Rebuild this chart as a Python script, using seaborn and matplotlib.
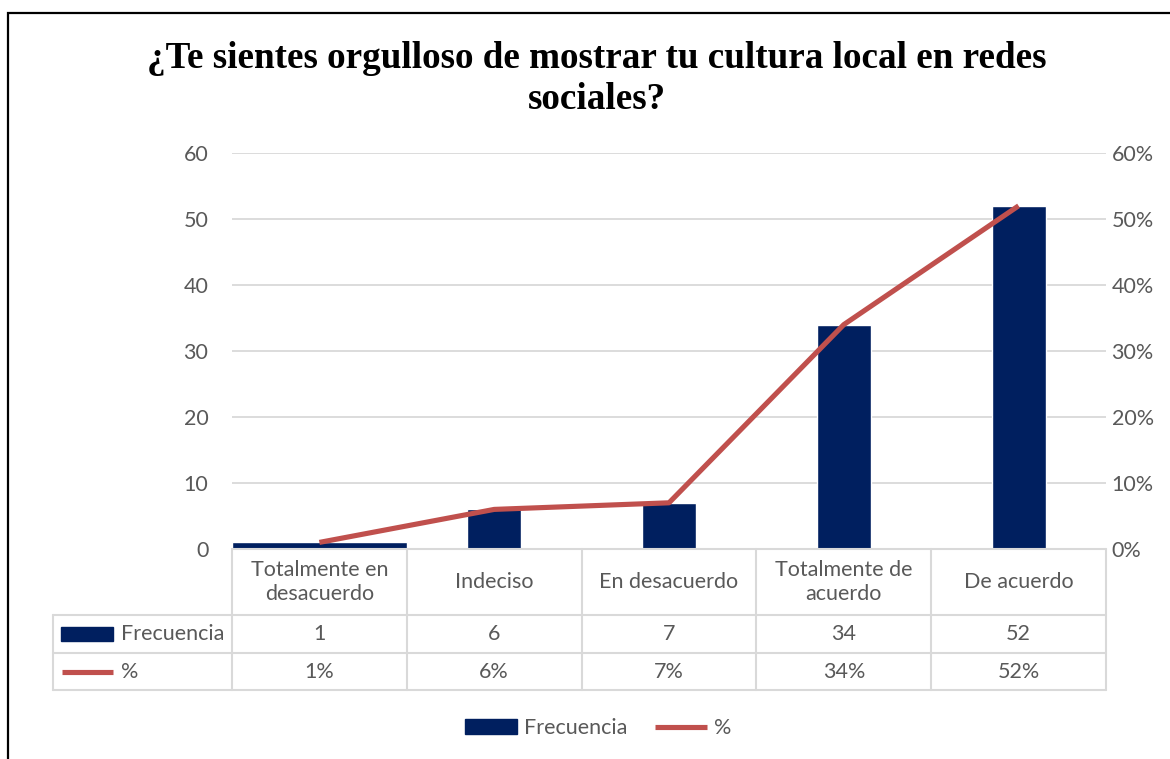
import numpy as np
import pandas as pd
import matplotlib
matplotlib.use("Agg")
import matplotlib.pyplot as plt
import matplotlib.patches as mpatches
from matplotlib.lines import Line2D
from matplotlib.ticker import PercentFormatter, MultipleLocator
import seaborn as sns

# ---- data ----
categories = ["Totalmente en desacuerdo", "Indeciso", "En desacuerdo",
              "Totalmente de acuerdo", "De acuerdo"]
table_labels = ["Totalmente en\ndesacuerdo", "Indeciso", "En desacuerdo",
                "Totalmente de\nacuerdo", "De acuerdo"]
frecuencia = [1, 6, 7, 34, 52]
porcentaje = [0.01, 0.06, 0.07, 0.34, 0.52]
pct_labels = ["1%", "6%", "7%", "34%", "52%"]
title = "¿Te sientes orgulloso de mostrar tu cultura local en redes\nsociales?"

df = pd.DataFrame({"cat": categories, "Frecuencia": frecuencia, "pct": porcentaje})

# ---- style ----
sns.set_theme(style="white")
FONT = ["Lato", "DejaVu Sans"]
plt.rcParams["font.family"] = FONT
TXT = "#595959"
NAVY = "#001F5F"
RED = "#C0504D"
GRID = "#D9D9D9"
FS = 15.5

W, H = 1170, 759
fig = plt.figure(figsize=(W / 100, H / 100), dpi=100)

def fx(px):
    return px / W

def fy(py):
    return 1 - py / H

# main axes
L, R, T, B = 232, 1106, 153, 549
ax = fig.add_axes([fx(L), fy(B), fx(R - L), (B - T) / H])
sns.barplot(data=df, x="cat", y="Frecuencia", color=NAVY, width=0.31,
            saturation=1, ax=ax, zorder=3)
# first bar is drawn across its whole category in the reference
p0 = ax.patches[0]
p0.set_x(-0.5)
p0.set_width(1.0)

ax.set_xlim(-0.5, len(categories) - 0.5)
ax.set_ylim(0, 60)
ax.yaxis.set_major_locator(MultipleLocator(10))
ax.set_xlabel("")
ax.set_ylabel("")
ax.set_xticks([])
ax.grid(axis="y", color=GRID, linewidth=1.3, zorder=0)
ax.set_axisbelow(True)
for s in ax.spines.values():
    s.set_visible(False)
ax.tick_params(axis="y", length=0, pad=17, labelsize=FS, labelcolor=TXT)
ax.patch.set_alpha(0)

ax2 = ax.twinx()
positions = np.arange(len(categories))
sns.lineplot(x=positions, y=porcentaje, ax=ax2, color=RED, linewidth=3.7,
             solid_capstyle="butt", zorder=4)
ax2.set_ylim(0, 0.6)
ax2.yaxis.set_major_locator(MultipleLocator(0.1))
ax2.yaxis.set_major_formatter(PercentFormatter(1.0, decimals=0))
ax2.set_ylabel("")
for s in ax2.spines.values():
    s.set_visible(False)
ax2.tick_params(axis="y", length=0, pad=4, labelsize=FS, labelcolor=TXT)

# ---- data table ----
TL, TT, TB = 53, 549, 690
R1, R2 = 615, 653
tax = fig.add_axes([fx(TL), fy(TB), fx(R - TL), (TB - TT) / H])
col_w = (R - L) / len(categories)
tax.set_xlim(TL, R)
tax.set_ylim(TB, TT)
tax.axis("off")
lw = 1.5
tax.plot([L, R], [TT, TT], color=GRID, lw=lw, clip_on=False)
for yy in (R1, R2, TB):
    tax.plot([TL, R], [yy, yy], color=GRID, lw=lw, clip_on=False)
for i in range(len(categories) + 1):
    xx = L + i * col_w
    tax.plot([xx, xx], [TT, TB], color=GRID, lw=lw, clip_on=False)
tax.plot([TL, TL], [R1, TB], color=GRID, lw=lw, clip_on=False)

for i, (lab, f, p) in enumerate(zip(table_labels, frecuencia, pct_labels)):
    cx = L + (i + 0.5) * col_w
    tax.text(cx, (TT + R1) / 2, lab, ha="center", va="center", fontsize=FS,
             color=TXT, linespacing=1.3)
    tax.text(cx, (R1 + R2) / 2, str(f), ha="center", va="center", fontsize=FS, color=TXT)
    tax.text(cx, (R2 + TB) / 2, p, ha="center", va="center", fontsize=FS, color=TXT)

# row keys
yc1 = (R1 + R2) / 2
tax.add_patch(mpatches.Rectangle((61, yc1 - 7), 52, 14, color=NAVY, clip_on=False))
tax.text(121, yc1, "Frecuencia", ha="left", va="center", fontsize=FS, color=TXT)
yc2 = (R2 + TB) / 2
tax.plot([62, 113], [yc2, yc2], color=RED, lw=3.7, solid_capstyle="butt", clip_on=False)
tax.text(121, yc2, "%", ha="left", va="center", fontsize=FS, color=TXT)

# ---- legend ----
handles = [mpatches.Patch(color=NAVY, label="Frecuencia"),
           Line2D([0], [0], color=RED, lw=3.7, solid_capstyle="butt", label="%")]
fig.legend(handles=handles, loc="center", bbox_to_anchor=(fx(598), fy(728)),
           ncol=2, frameon=False, fontsize=FS, labelcolor=TXT,
           handlelength=2.42, handleheight=0.65, handletextpad=0.3, columnspacing=1.3)

# ---- title ----
fig.text(fx(597), fy(79), title, ha="center", va="center", fontsize=26.7,
         fontweight="bold", family=["Liberation Serif", "DejaVu Serif"],
         color="black", linespacing=1.24)

# ---- outer frame ----
fig.add_artist(mpatches.Rectangle((fx(8), -0.1), 1.2, fy(13) + 0.1,
                                  transform=fig.transFigure, fill=False,
                                  edgecolor="black", lw=1.6))

fig.savefig("out.png", dpi=100)
